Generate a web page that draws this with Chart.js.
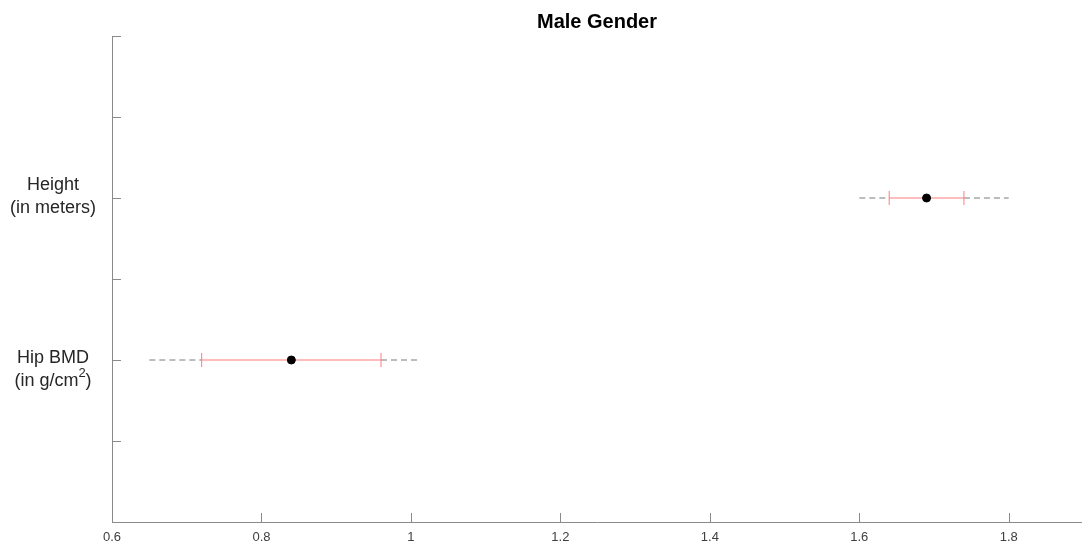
<!DOCTYPE html>
<html>
<head>
<meta charset="utf-8">
<script src="https://cdn.jsdelivr.net/npm/chart.js@4/dist/chart.umd.min.js"></script>
<style>
  html, body { margin: 0; padding: 0; background: #fff; }
  #wrap { width: 1082px; height: 547px; }
</style>
</head>
<body>
<div id="wrap"><canvas id="chart"></canvas></div>
<script>
// chart data
var title = 'Male Gender';
var categories = ['Height', 'Hip BMD'];
var categoryLines = [['Height', '(in meters)'], ['Hip BMD', '(in g/cm', '2', ')']];
var categoryPos = [4, 2];
var whiskerLow = [1.60, 0.65];
var whiskerHigh = [1.80, 1.01];
var rangeLow = [1.64, 0.72];
var rangeHigh = [1.74, 0.96];
var means = [1.69, 0.84];
var xTicks = [0.6, 0.8, 1, 1.2, 1.4, 1.6, 1.8];

var axisColor = '#8a8a8a';
var redColor = '#ff7b7b';
var font = '"Liberation Sans", Arial, sans-serif';

// build datasets from the arrays above
var datasets = [];
categories.forEach((name, i) => {
    var y = categoryPos[i];
    // dashed whiskers on both sides of the red range
    [[whiskerLow[i], rangeLow[i]], [rangeHigh[i], whiskerHigh[i]]].forEach(seg => {
        datasets.push({
            type: 'line', label: name + ' whisker',
            data: [{x: seg[0], y: y}, {x: seg[1], y: y}],
            borderColor: '#7a7a7a', borderWidth: 1, borderDash: [6, 4],
            pointRadius: 0, order: 3
        });
    });
    datasets.push({
        type: 'line', label: name + ' range',
        data: [{x: rangeLow[i], y: y}, {x: rangeHigh[i], y: y}],
        borderColor: redColor, borderWidth: 1,
        pointStyle: 'line', rotation: 90, pointRadius: 7,
        pointBorderColor: redColor, pointBorderWidth: 1, order: 2
    });
    datasets.push({
        type: 'scatter', label: name + ' mean',
        data: [{x: means[i], y: y}],
        backgroundColor: '#000', borderColor: '#000',
        pointRadius: 4, order: 0
    });
});

// inward ticks, tick labels and the title
var decorations = {
    id: 'decorations',
    afterDraw(chart) {
        var ctx = chart.ctx;
        var xs = chart.scales.x, ys = chart.scales.y;
        var area = chart.chartArea;
        ctx.save();
        ctx.strokeStyle = axisColor;
        ctx.lineWidth = 1;
        ctx.beginPath();
        xTicks.forEach(v => {
            var px = Math.round(xs.getPixelForValue(v)) + 0.5;
            ctx.moveTo(px, area.bottom);
            ctx.lineTo(px, area.bottom - 9);
        });
        for (var v = 0; v <= 6; v++) {
            var py = Math.round(ys.getPixelForValue(v)) + 0.5;
            ctx.moveTo(area.left, py);
            ctx.lineTo(area.left + 9, py);
        }
        ctx.stroke();

        // x tick labels
        ctx.fillStyle = '#404040';
        ctx.font = '13px ' + font;
        ctx.textAlign = 'center';
        ctx.textBaseline = 'middle';
        xTicks.forEach(v => {
            ctx.fillText(String(v), xs.getPixelForValue(v), area.bottom + 15);
        });

        // category labels
        ctx.fillStyle = '#262626';
        var cx = 53;
        categories.forEach((name, i) => {
            var py = ys.getPixelForValue(categoryPos[i]);
            var lines = categoryLines[i];
            ctx.font = '18px ' + font;
            ctx.textAlign = 'center';
            if (lines.length == 2) {
                ctx.fillText(lines[0], cx, py - 13);
                ctx.fillText(lines[1], cx, py + 10);
            } else {
                ctx.fillText(lines[0], cx, py - 2);
                // second line with superscript
                var w1 = ctx.measureText(lines[1]).width;
                var w3 = ctx.measureText(lines[3]).width;
                ctx.font = '13px ' + font;
                var w2 = ctx.measureText(lines[2]).width;
                var start = cx - (w1 + w2 + w3) / 2;
                var ly = py + 21;
                ctx.textAlign = 'left';
                ctx.font = '18px ' + font;
                ctx.fillText(lines[1], start, ly);
                ctx.font = '13px ' + font;
                ctx.fillText(lines[2], start + w1, ly - 8);
                ctx.font = '18px ' + font;
                ctx.fillText(lines[3], start + w1 + w2, ly);
            }
        });

        // title centred over the plot area
        ctx.font = 'bold 20px ' + font;
        ctx.fillStyle = '#000';
        ctx.textAlign = 'center';
        ctx.fillText(title, (area.left + area.right) / 2, 22);
        ctx.restore();
    }
};

var config = {
    type: 'scatter',
    data: { datasets: datasets },
    options: {
        responsive: true,
        maintainAspectRatio: false,
        animation: false,
        layout: { autoPadding: false, padding: { top: 36, right: 0, left: 0, bottom: 0 } },
        plugins: {
            legend: { display: false },
            tooltip: { enabled: false },
            title: { display: false }
        },
        scales: {
            x: {
                type: 'linear', min: 0.6, max: 1.898,
                afterFit: (scale) => { scale.height = 25; scale.paddingRight = 0; scale.paddingLeft = 0; },
                grid: { display: false, drawTicks: false },
                border: { color: axisColor, width: 1 },
                ticks: { display: false }
            },
            y: {
                type: 'linear', min: 0, max: 6,
                afterFit: (scale) => { scale.width = 112; },
                grid: { display: false, drawTicks: false },
                border: { color: axisColor, width: 1 },
                ticks: { display: false, stepSize: 1 }
            }
        }
    },
    plugins: [decorations]
};

var chartObj = new Chart(document.getElementById('chart'), config);
</script>
</body>
</html>
